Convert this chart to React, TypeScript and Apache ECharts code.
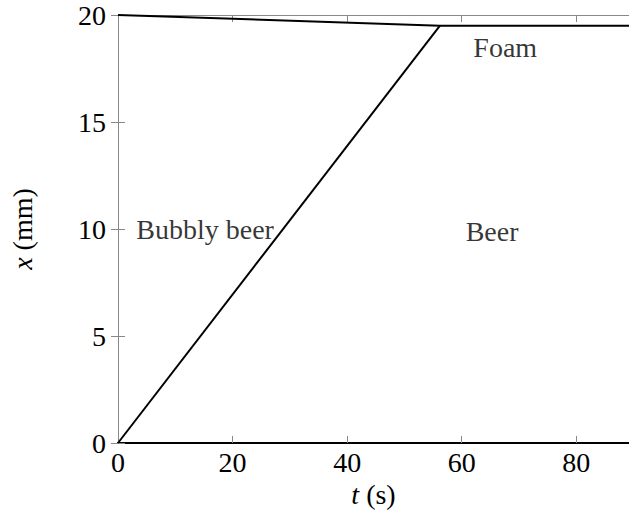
import React, { useEffect, useRef } from "react";
import * as echarts from "echarts";

const xTicks = [0, 20, 40, 60, 80];
const yTicks = [0, 5, 10, 15, 20];
const xMax = 89.2;
const foamLine: [number, number][] = [[0, 20], [56.2, 19.5], [89.2, 19.5]];
const frontLine: [number, number][] = [[0, 0], [56.2, 19.5]];
const labelNames = ["Bubbly beer", "Beer", "Foam"];
const labelX = [15.2, 65.3, 67.6];
const labelY = [10.0, 9.9, 18.5];

const FONT = "Liberation Serif";
const FS = 28;

export default function App() {
  const ref = useRef<HTMLDivElement>(null);
  useEffect(() => {
    const chart = echarts.init(ref.current!, null, { renderer: "svg" });
    const tickStyle = { show: true, inside: true, length: 7, lineStyle: { color: "#888", width: 1 } };
    const rich = { i: { fontStyle: "italic", fontFamily: FONT, fontSize: FS, color: "#000" } };
    chart.setOption({
      animation: false,
      backgroundColor: "#fff",
      textStyle: { fontFamily: FONT },
      grid: { left: 118, top: 15, right: -2, bottom: 80, containLabel: false },
      xAxis: [
        {
          type: "value",
          min: 0,
          max: xMax,
          interval: 20,
          position: "bottom",
          axisLine: { show: true, onZero: false, lineStyle: { color: "#000", width: 2 } },
          axisTick: tickStyle,
          splitLine: { show: false },
          axisLabel: {
            color: "#000",
            fontFamily: FONT,
            fontSize: FS,
            margin: 5,
            showMaxLabel: false,
            formatter: (v: number) => (xTicks.includes(v) ? String(v) : ""),
          },
          name: "{i|t} (s)",
          nameLocation: "middle",
          nameGap: 31,
          nameTextStyle: { color: "#000", fontFamily: FONT, fontSize: FS, rich },
        },
        {
          type: "value",
          min: 0,
          max: xMax,
          interval: 20,
          position: "top",
          axisLine: { show: true, onZero: false, lineStyle: { color: "#888", width: 1 } },
          axisTick: tickStyle,
          splitLine: { show: false },
          axisLabel: { show: false },
        },
      ],
      yAxis: [
        {
          type: "value",
          min: 0,
          max: 20,
          interval: 5,
          position: "left",
          axisLine: { show: true, onZero: false, lineStyle: { color: "#888", width: 1 } },
          axisTick: tickStyle,
          splitLine: { show: false },
          axisLabel: {
            color: "#000",
            fontFamily: FONT,
            fontSize: FS,
            margin: 12,
            formatter: (v: number) => (yTicks.includes(v) ? String(v) : ""),
          },
          name: "{i|x} (mm)",
          nameLocation: "middle",
          nameRotate: 90,
          nameGap: 82,
          nameTextStyle: { color: "#000", fontFamily: FONT, fontSize: FS, rich },
        },
        {
          type: "value",
          min: 0,
          max: 20,
          interval: 5,
          position: "right",
          axisLine: { show: false },
          axisTick: tickStyle,
          splitLine: { show: false },
          axisLabel: { show: false },
        },
      ],
      series: [
        {
          type: "line",
          data: foamLine,
          symbol: "none",
          clip: false,
          lineStyle: { color: "#000", width: 2 },
        },
        {
          type: "line",
          data: frontLine,
          symbol: "none",
          clip: false,
          lineStyle: { color: "#000", width: 2 },
        },
        {
          type: "scatter",
          symbolSize: 0,
          itemStyle: { color: "#000" },
          data: labelNames.map((n, i) => ({ value: [labelX[i], labelY[i]], name: n })),
          label: {
            show: true,
            position: "inside",
            formatter: (p: any) => p.name,
            color: "#000",
            textBorderWidth: 0,
            fontFamily: FONT,
            fontSize: FS,
          },
        },
      ],
    });
    return () => chart.dispose();
  }, []);
  return (
    <div
      ref={ref}
      style={{ position: "fixed", left: 0, top: 0, width: 629, height: 523 }}
    />
  );
}
